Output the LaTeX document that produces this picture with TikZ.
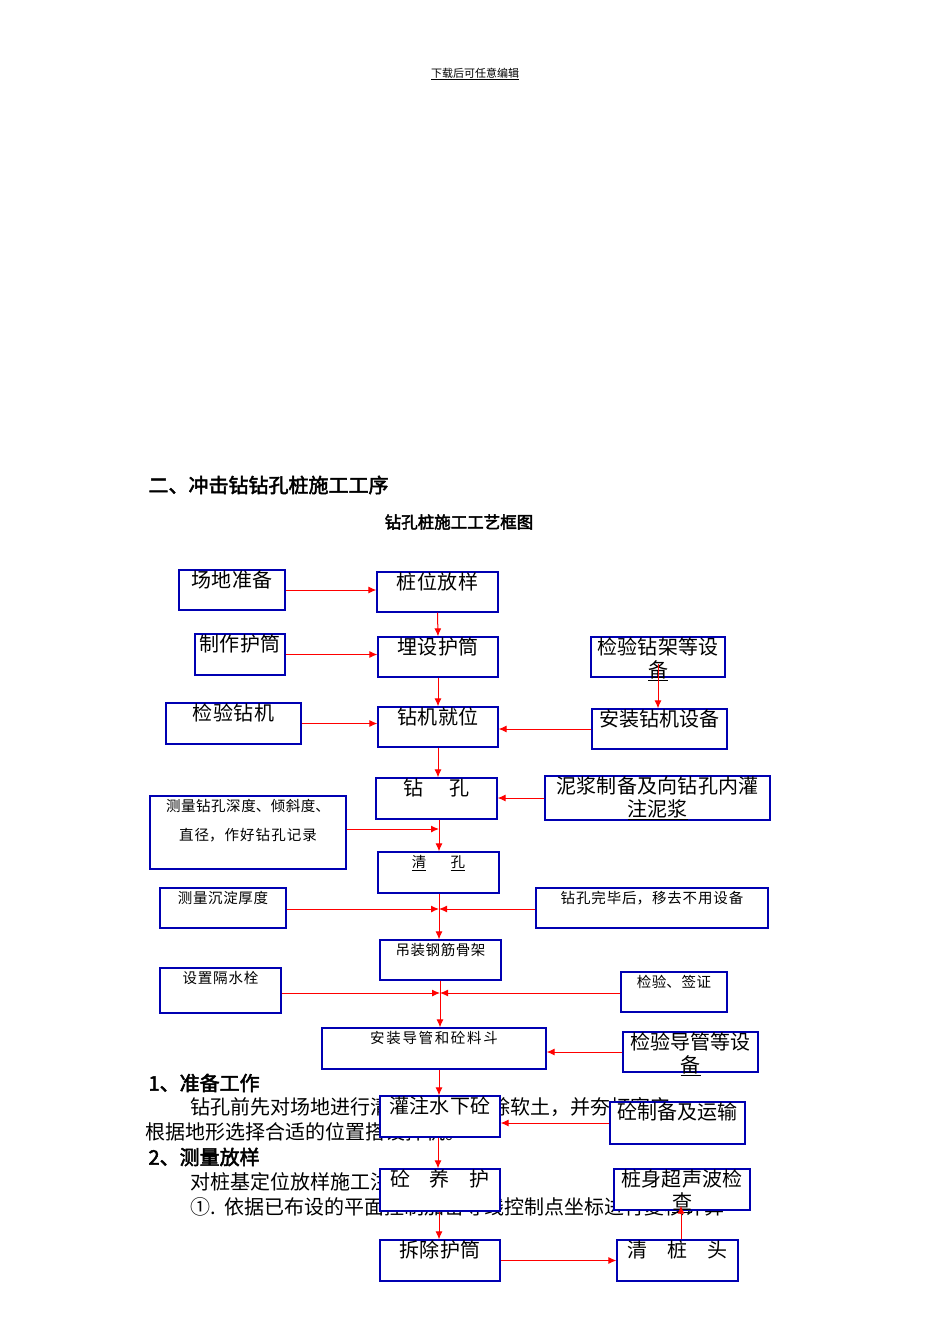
\documentclass[tikz,border=0pt]{standalone}
\usepackage{fontspec}
\setmainfont{Noto Sans CJK SC}[AutoFakeBold=2.5]
\XeTeXlinebreaklocale "zh"
\XeTeXlinebreakskip=0pt plus 1pt
\usetikzlibrary{arrows.meta,calc}
\tikzset{
 box/.style={draw=blue!70!black, fill=white, line width=1.3pt, inner sep=0pt},
 arr/.style={draw=red, line width=1pt, -{Latex[length=8pt,width=7pt]}},
 lbl/.style={anchor=north, align=center, inner sep=1pt, font=\fontsize{20}{23}\selectfont},
 sml/.style={anchor=north, align=center, inner sep=4pt, font=\fontsize{14.5}{29}\selectfont},
 body/.style={anchor=west, inner sep=0pt, font=\fontsize{20}{22}\selectfont}
}
\newcommand{\bx}[7]{%
 \node[box, minimum width=#4-#2, minimum height=#5-#3] (#1) at ({(#2+#4)/2},{(#3+#5)/2}) {};
 \node[#7, text width=#4-#2] at (#1.north) {#6};}
\begin{document}
\begin{tikzpicture}[x=1pt,y=-1pt]
\useasboundingbox[fill=white] (0,0) rectangle (950,1344);
\node[font=\fontsize{11}{12}\selectfont] (hd) at (475,74) {\underline{下载后可任意编辑}};
\node[anchor=west,font=\bfseries\fontsize{20}{22}\selectfont] (t1) at (145,485) {二、冲击钻钻孔桩施工工序};
\node[font=\bfseries\fontsize{16.5}{18}\selectfont] (t2) at (459,522) {钻孔桩施工工艺框图};
% body text under the chart
\node[anchor=west,font=\bfseries\fontsize{20}{22}\selectfont] (b1) at (145,1083) {1、准备工作};
\node[body] (b2) at (190,1107) {钻孔前先对场地进行清除杂物，换除软土，并夯打密实。};
\node[body] (b3) at (145,1132) {根据地形选择合适的位置搭设拌机。};
\node[anchor=west,font=\bfseries\fontsize{20}{22}\selectfont] (b4) at (145,1157) {2、测量放样};
\node[body] (b5) at (190,1182) {对桩基定位放样施工注意事项如下：};
\node[body] (b6) at (190,1207) {①.\ \ 依据已布设的平面控制加密导线控制点坐标进行复核计算};
% boxes
\bx{cd}{179}{570}{285}{610}{场地准备}{lbl}
\bx{zw}{377}{572}{498}{612}{桩位放样}{lbl}
\bx{zh}{195}{634}{285}{675}{制作护筒}{lbl}
\bx{ms}{378}{637}{498}{677}{埋设护筒}{lbl}
\bx{jz}{591}{637}{725}{677}{检验钻架等设\\\underline{备}}{lbl}
\bx{jj}{166}{703}{301}{744}{检验钻机}{lbl}
\bx{jw}{378}{707}{498}{747}{钻机就位}{lbl}
\bx{az}{592}{709}{727}{749}{安装钻机设备}{lbl}
\bx{zk}{376}{778}{497}{819}{钻\quad\ 孔}{lbl}
\bx{nj}{545}{776}{770}{820}{泥浆制备及向钻孔内灌\\\underline{注泥浆}}{lbl}
\bx{cl}{150}{796}{346}{869}{测量钻孔深度、倾斜度、\\直径，作好钻孔记录}{sml}
\bx{qk}{378}{852}{499}{893}{\underline{清}\quad\ \ \underline{孔}}{sml}
\bx{cc}{160}{888}{286}{928}{测量沉淀厚度}{sml}
\bx{wb}{536}{888}{768}{928}{钻孔完毕后，移去不用设备}{sml}
\bx{dz}{380}{940}{501}{980}{吊装钢筋骨架}{sml}
\bx{gs}{160}{968}{281}{1013}{设置隔水栓}{sml}
\bx{jq}{621}{972}{727}{1012}{检验、签证}{sml}
\bx{dg}{322}{1028}{546}{1069}{安装导管和砼料斗}{sml}
\bx{jd}{623}{1032}{758}{1072}{检验导管等设\\\underline{备}}{lbl}
\bx{gz}{380}{1096}{500}{1137}{灌注水下砼}{lbl}
\bx{tz}{610}{1102}{745}{1144}{砼制备及运输}{lbl}
\bx{yh}{380}{1169}{500}{1211}{砼\quad 养\quad 护}{lbl}
\bx{cs}{614}{1169}{750}{1210}{桩身超声波检\\\underline{查}}{lbl}
\bx{cc2}{380}{1240}{500}{1281}{拆除护筒}{lbl}
\bx{qz}{617}{1240}{738}{1281}{清\quad 桩\quad 头}{lbl}
% arrows
\draw[arr] (cd.east) -- (cd.east -| zw.west);
\draw[arr] (zh.east) -- (zh.east -| ms.west);
\draw[arr] (jj.east) -- (jj.east -| jw.west);
\draw[arr] (az.west) -- (az.west -| jw.east);
\draw[arr] (nj.west) -- (nj.west -| zk.east);
\draw[arr] (jd.west) -- (jd.west -| dg.east);
\draw[arr] (tz.west) -- (tz.west -| gz.east);
\draw[arr] (cc2.east) -- (cc2.east -| qz.west);
\draw[arr] (qz.north -| 681,0) -- ([yshift=5pt]cs.south -| 681,0);
\draw[arr] ([yshift=14pt]jz.south -| 658,0) -- (az.north -| 658,0);
\draw[arr] (zw.south) -- (ms.north);
\draw[arr] (ms.south) -- (jw.north);
\draw[arr] (jw.south) -- (jw.south |- zk.north);
\draw[arr] (zk.south -| 439,0) -- (qk.north -| 439,0);
\draw[arr] (qk.south -| 439,0) -- (dz.north -| 439,0);
\draw[arr] (dz.south -| 440,0) -- (dg.north -| 440,0);
\draw[arr] (dg.south -| 439,0) -- (gz.north -| 439,0);
\draw[arr] (gz.south -| 438,0) -- (yh.north -| 438,0);
\draw[arr] (yh.south -| 439,0) -- (cc2.north -| 439,0);
\coordinate (m1) at (439,829);
\coordinate (m2) at (439,909);
\coordinate (m3) at (440,993);
\draw[arr] (cl.east |- m1) -- (m1);
\draw[arr] (cc.east |- m2) -- (m2);
\draw[arr] (wb.west |- m2) -- (m2);
\draw[arr] (gs.east |- m3) -- (m3);
\draw[arr] (jq.west |- m3) -- (m3);
\end{tikzpicture}
\end{document}
